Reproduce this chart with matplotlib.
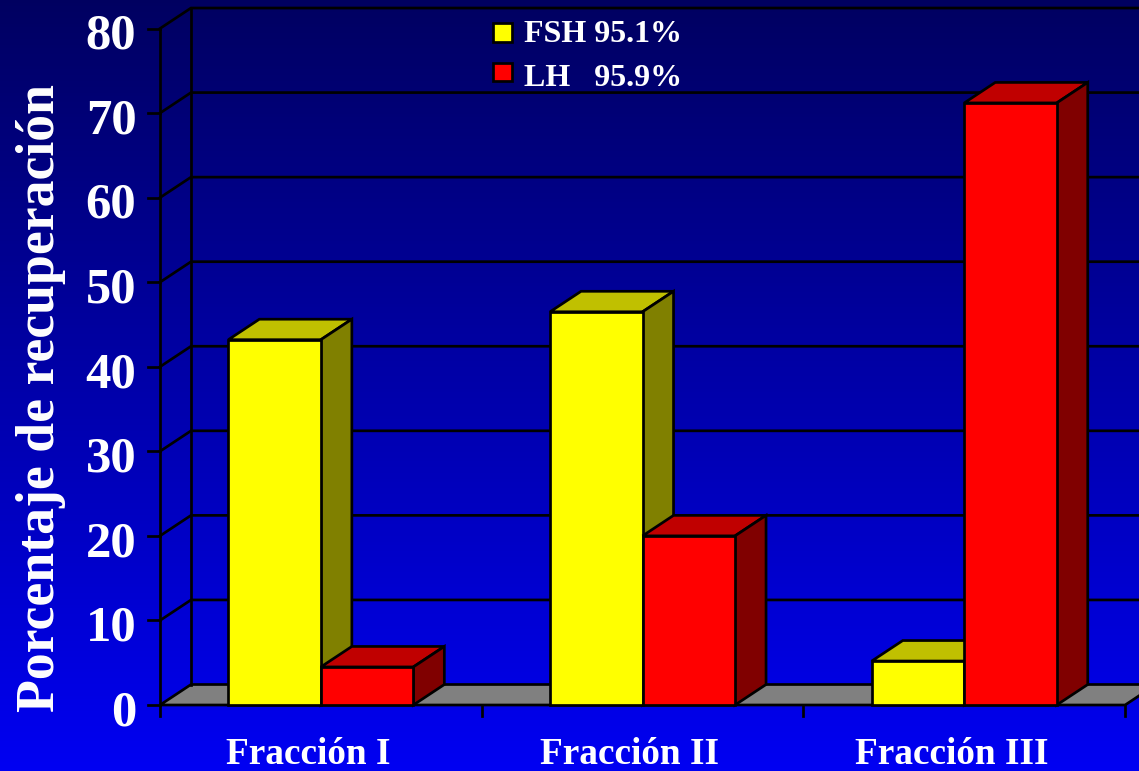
import matplotlib
matplotlib.use("Agg")
import matplotlib.pyplot as plt
import numpy as np
from matplotlib.patches import Polygon, Rectangle
from matplotlib.colors import LinearSegmentedColormap

plt.rcParams['font.family'] = ['Liberation Serif', 'DejaVu Serif']
plt.rcParams['font.weight'] = 'bold'

categories = ['Fracción I', 'Fracción II', 'Fracción III']
fsh = [43.2, 46.5, 5.2]
lh = [4.5, 20.0, 71.2]
y_ticks = [0, 10, 20, 30, 40, 50, 60, 70, 80]
legend_labels = ['FSH 95.1%', 'LH   95.9%']
legend_colors = ['#ffff00', '#ff0000']

W, H = 1139, 771
BAR_W = 0.2875    # ancho de barra, en categorias
DX = 31 / 321.7   # profundidad
DY = 20.5 / 8.456

fig = plt.figure(figsize=(W / 100, H / 100), dpi=100)
ax = fig.add_axes([0, 0, 1, 1])
ax.axis('off')

# ejes: categoria 0 centrada en x=321 px, 8.456 px por unidad, y=0 en 705 px
x_left = -0.5 - 160 / 321.7
x_right = x_left + W / 321.7
y_bottom = -(H - 705) / 8.456
y_top = y_bottom + H / 8.456

# fondo degradado
cmap = LinearSegmentedColormap.from_list('fondo', [(0, 0, 0.38), (0, 0, 0.95)])
grad = np.linspace(0, 1, 256).reshape(-1, 1)
ax.imshow(grad, cmap=cmap, extent=(x_left, x_right, y_bottom, y_top), aspect='auto', zorder=0)
ax.set_xlim(x_left, x_right)
ax.set_ylim(y_bottom, y_top)

LW = 1.95
x0 = -0.5
x1 = 2.5

# piso gris
ax.add_patch(Polygon([(x0, 0), (x0 + DX, DY), (x1 + DX, DY), (x1, 0)], fc='#808080', ec='black', lw=LW, zorder=1))

# lineas de la pared y marcas del eje Y
for v in y_ticks:
    if v > 0:
        ax.plot([x0, x0 + DX, x1 + DX], [v, v + DY, v + DY], color='black', lw=LW, zorder=1, solid_joinstyle='miter')
    ax.plot([x0 - 12 / 321.7, x0], [v, v], color='black', lw=LW, zorder=1)
    ax.annotate(str(v), (x0, v), xytext=(-17, -6), textcoords='offset points', ha='right', va='center',
                color='white', fontsize=36.5, fontweight='bold', zorder=5)
ax.plot([x0, x0], [0, 80], color='black', lw=LW, zorder=1)
ax.plot([x0 + DX, x0 + DX], [DY, 80 + DY], color='black', lw=LW, zorder=1)
for i in range(4):
    ax.plot([x0 + i, x0 + i], [0, -11 / 8.456], color='black', lw=LW, zorder=1)


def bar3d(left, value, front, top, side, z):
    right = left + BAR_W
    ax.add_patch(Polygon([(left, value), (left + DX, value + DY), (right + DX, value + DY), (right, value)],
                         fc=top, ec='black', lw=LW, joinstyle='miter', zorder=z))
    ax.add_patch(Polygon([(right, 0), (right + DX, DY), (right + DX, value + DY), (right, value)],
                         fc=side, ec='black', lw=LW, joinstyle='miter', zorder=z))
    ax.add_patch(Polygon([(left, 0), (left, value), (right, value), (right, 0)],
                         fc=front, ec='black', lw=LW, joinstyle='miter', zorder=z))


for i, name in enumerate(categories):
    bar3d(i - BAR_W, fsh[i], '#ffff00', '#c0c000', '#808000', 2 + i * 2)
    bar3d(i, lh[i], '#ff0000', '#c00000', '#800000', 3 + i * 2)
    ax.annotate(name, (i - 0.04, 0), xytext=(0, -35.5), textcoords='offset points', ha='center', va='center',
                color='white', fontsize=26.8, fontweight='bold', zorder=5)

ax.text(41 / W, 1 - 398 / H, 'Porcentaje de recuperación', transform=ax.transAxes, rotation=90,
        ha='center', va='center', color='white', fontsize=38.7, fontweight='bold', zorder=5)

# leyenda
for k, (lab, col) in enumerate(zip(legend_labels, legend_colors)):
    ax.add_patch(Rectangle((493 / W, 1 - (41.5 + 39.5 * k) / H), 19 / W, 18 / H, transform=ax.transAxes,
                           fc=col, ec='black', lw=LW, zorder=6))
    ax.text(524 / W, 1 - (35 + 44 * k) / H, lab, transform=ax.transAxes, ha='left', va='center',
            color='white', fontsize=23, fontweight='bold', zorder=6)

fig.savefig('out.png', dpi=100)
